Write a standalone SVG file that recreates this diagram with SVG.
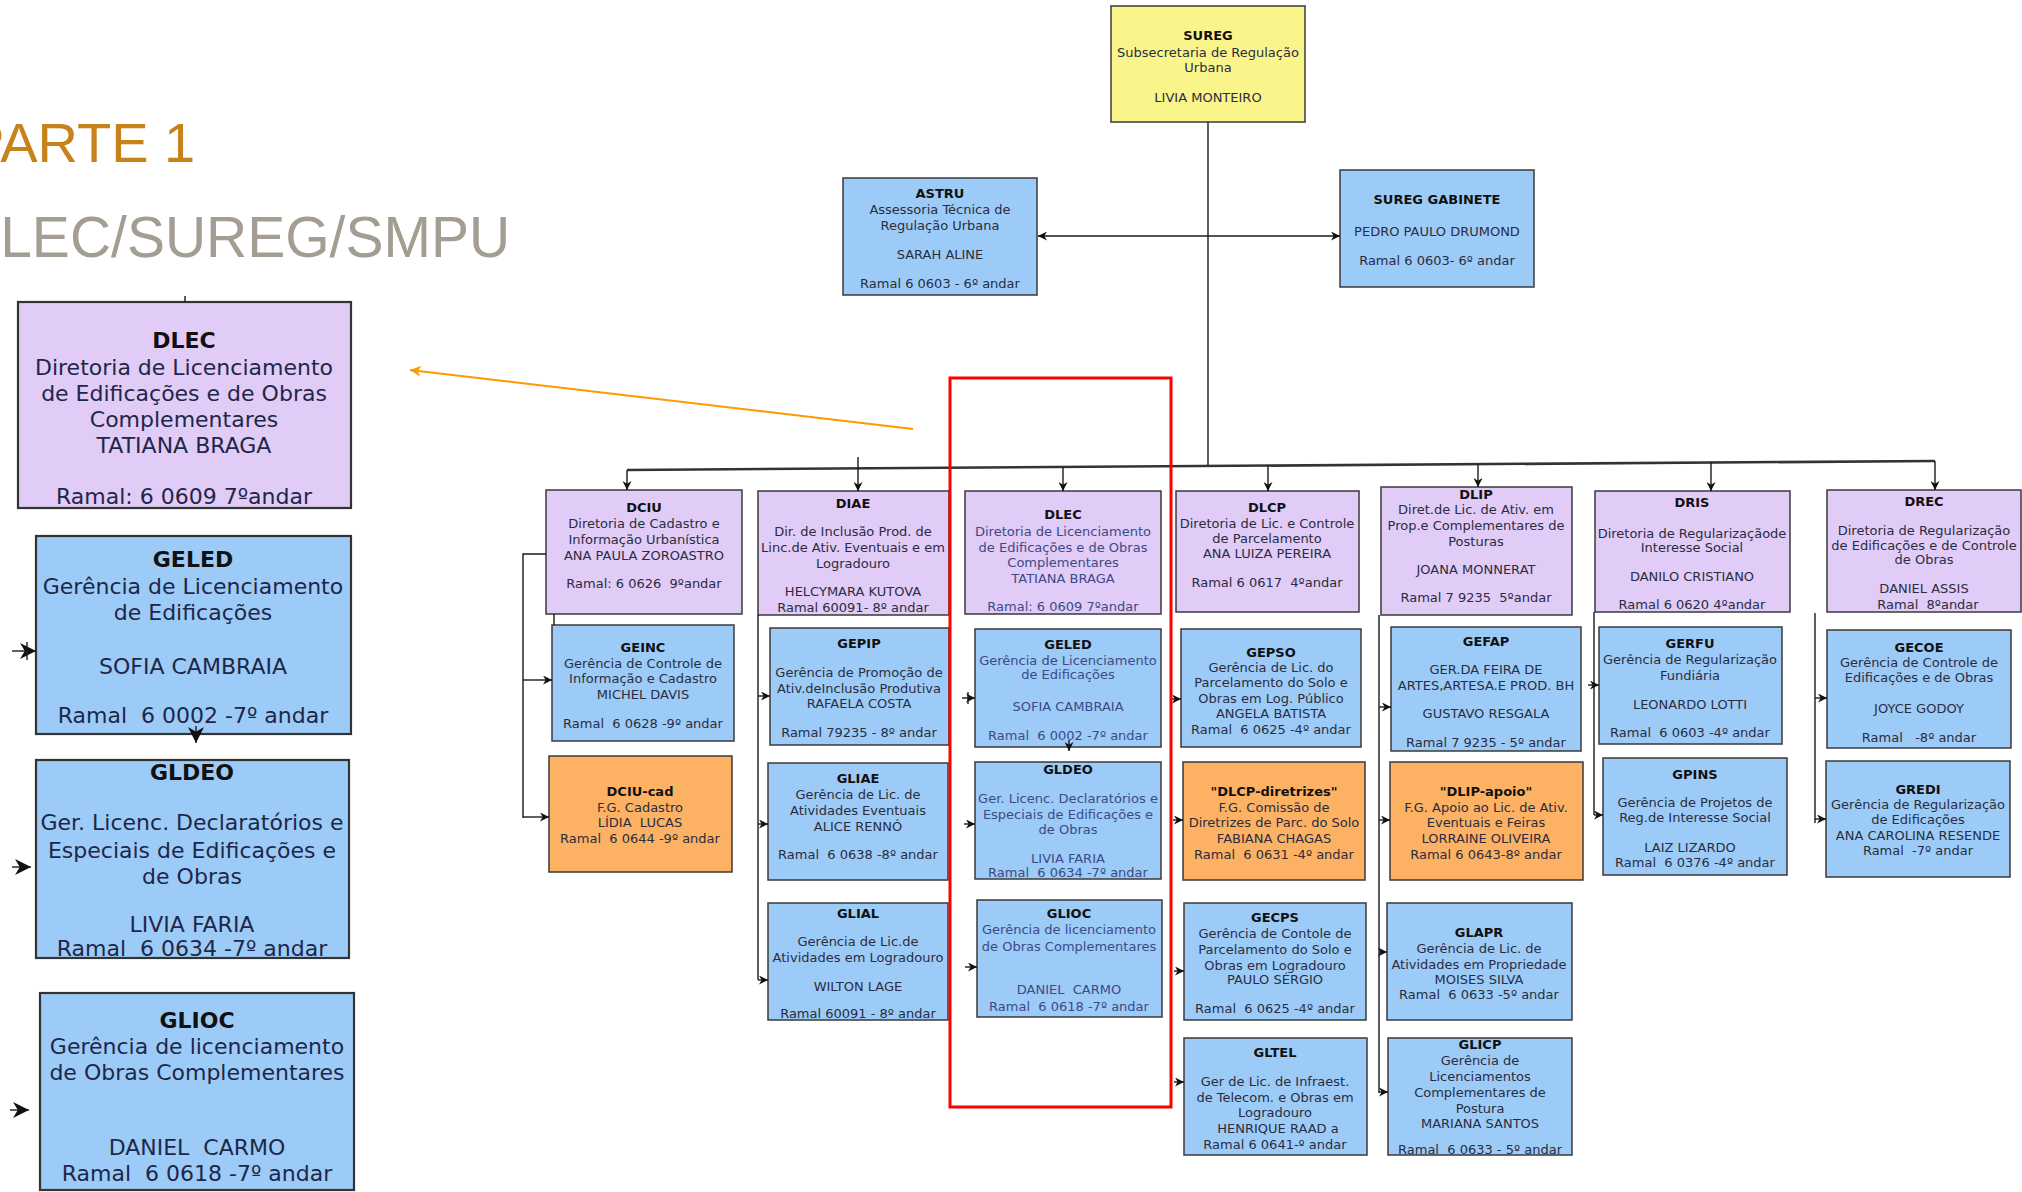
<svg xmlns="http://www.w3.org/2000/svg" width="2022" height="1192" viewBox="0 0 2022 1192" xml:space="preserve">
<style>
.bg{fill:#ffffff}
.box{stroke:#3a3a3a;stroke-width:1.5}
.boxL{stroke:#333333;stroke-width:2.2}
.pu{fill:#E1CBF7}
.bl{fill:#9DCBF7}
.or{fill:#FDB163}
.ye{fill:#F9F58B}
.t{font-family:'DejaVu Sans',Verdana,sans-serif;font-size:13px;fill:#2a2d40;text-anchor:middle;white-space:pre}
.L{font-size:22px;fill:#1e2748}
.b{font-weight:bold;fill:#111111}
.hl{fill:#3c4a86}
.conn{stroke:#1a1a1a;stroke-width:1.4;fill:none}
.bus{stroke:#333333;stroke-width:2.6;fill:none}
.ttl{font-family:'Liberation Sans',Arial,sans-serif;font-size:56px}
</style>
<defs>
<marker id="ah" viewBox="0 0 10 10" refX="10" refY="5" markerWidth="9" markerHeight="9" markerUnits="userSpaceOnUse" orient="auto-start-reverse"><path d="M0,0 L10,5 L0,10 L3,5 z" fill="#111111"/></marker>
<marker id="ahL" viewBox="0 0 10 10" refX="10" refY="5" markerWidth="18" markerHeight="16" markerUnits="userSpaceOnUse" orient="auto"><path d="M0,0 L10,5 L0,10 L3,5 z" fill="#111111"/></marker>
<marker id="aho" viewBox="0 0 10 10" refX="10" refY="5" markerWidth="13" markerHeight="11" markerUnits="userSpaceOnUse" orient="auto"><path d="M0,0 L10,5 L0,10 L3,5 z" fill="#FF9900"/></marker>
</defs>
<rect class="bg" x="0" y="0" width="2022" height="1192"/>

<g id="titles">
<text class="ttl" x="-33" y="162" fill="#C8821A">PARTE 1</text>
<text class="ttl" x="-41" y="257" fill="#A39D92" style="font-size:57px">DLEC/SUREG/SMPU</text>
</g>

<g id="big-dlec"><rect class="boxL pu" x="18" y="302" width="333" height="206"/>
<text class="t L b" x="184" y="348">DLEC</text>
<text class="t L" x="184" y="375">Diretoria de Licenciamento</text>
<text class="t L" x="184" y="401">de Edificações e de Obras</text>
<text class="t L" x="184" y="427">Complementares</text>
<text class="t L" x="184" y="453">TATIANA BRAGA</text>
<text class="t L" x="184" y="504">Ramal: 6 0609 7ºandar</text>
</g>
<g id="big-geled"><rect class="boxL bl" x="36" y="536" width="315" height="198"/>
<text class="t L b" x="193" y="567">GELED</text>
<text class="t L" x="193" y="594">Gerência de Licenciamento</text>
<text class="t L" x="193" y="620">de Edificações</text>
<text class="t L" x="193" y="674">SOFIA CAMBRAIA</text>
<text class="t L" x="193" y="723">Ramal  6 0002 -7º andar</text>
</g>
<g id="big-gldeo"><rect class="boxL bl" x="36" y="760" width="313" height="198"/>
<text class="t L b" x="192" y="780">GLDEO</text>
<text class="t L" x="192" y="830" textLength="303" lengthAdjust="spacingAndGlyphs">Ger. Licenc. Declaratórios e</text>
<text class="t L" x="192" y="858">Especiais de Edificações e</text>
<text class="t L" x="192" y="884">de Obras</text>
<text class="t L" x="192" y="932">LIVIA FARIA</text>
<text class="t L" x="192" y="956">Ramal  6 0634 -7º andar</text>
</g>
<g id="big-glioc"><rect class="boxL bl" x="40" y="993" width="314" height="197"/>
<text class="t L b" x="197" y="1028">GLIOC</text>
<text class="t L" x="197" y="1054">Gerência de licenciamento</text>
<text class="t L" x="197" y="1080">de Obras Complementares</text>
<text class="t L" x="197" y="1155">DANIEL  CARMO</text>
<text class="t L" x="197" y="1181">Ramal  6 0618 -7º andar</text>
</g>

<g id="sureg"><rect class="box ye" x="1111" y="6" width="194" height="116"/>
<text class="t b" x="1208" y="40">SUREG</text>
<text class="t" x="1208" y="57">Subsecretaria de Regulação</text>
<text class="t" x="1208" y="72">Urbana</text>
<text class="t" x="1208" y="102">LIVIA MONTEIRO</text>
</g>
<g id="astru"><rect class="box bl" x="843" y="178" width="194" height="117"/>
<text class="t b" x="940" y="198">ASTRU</text>
<text class="t" x="940" y="214">Assessoria Técnica de</text>
<text class="t" x="940" y="230">Regulação Urbana</text>
<text class="t" x="940" y="259">SARAH ALINE</text>
<text class="t" x="940" y="288">Ramal 6 0603 - 6º andar</text>
</g>
<g id="gabinete"><rect class="box bl" x="1340" y="170" width="194" height="117"/>
<text class="t b" x="1437" y="204">SUREG GABINETE</text>
<text class="t" x="1437" y="236">PEDRO PAULO DRUMOND</text>
<text class="t" x="1437" y="265">Ramal 6 0603- 6º andar</text>
</g>

<g id="dciu"><rect class="box pu" x="546" y="490" width="196" height="124"/>
<text class="t b" x="644" y="512">DCIU</text>
<text class="t" x="644" y="528">Diretoria de Cadastro e</text>
<text class="t" x="644" y="544">Informação Urbanística</text>
<text class="t" x="644" y="560">ANA PAULA ZOROASTRO</text>
<text class="t" x="644" y="588">Ramal: 6 0626  9ºandar</text>
</g>
<g id="diae"><rect class="box pu" x="758" y="491" width="191" height="124"/>
<text class="t b" x="853" y="508">DIAE</text>
<text class="t" x="853" y="536">Dir. de Inclusão Prod. de</text>
<text class="t" x="853" y="552">Linc.de Ativ. Eventuais e em</text>
<text class="t" x="853" y="568">Logradouro</text>
<text class="t" x="853" y="596">HELCYMARA KUTOVA</text>
<text class="t" x="853" y="612">Ramal 60091- 8º andar</text>
</g>
<g id="dlec"><rect class="box pu" x="965" y="491" width="196" height="123"/>
<text class="t b" x="1063" y="519">DLEC</text>
<text class="t hl" x="1063" y="536">Diretoria de Licenciamento</text>
<text class="t hl" x="1063" y="552">de Edificações e de Obras</text>
<text class="t hl" x="1063" y="567">Complementares</text>
<text class="t hl" x="1063" y="583">TATIANA BRAGA</text>
<text class="t hl" x="1063" y="611">Ramal: 6 0609 7ºandar</text>
</g>
<g id="dlcp"><rect class="box pu" x="1176" y="491" width="183" height="121"/>
<text class="t b" x="1267" y="512">DLCP</text>
<text class="t" x="1267" y="528">Diretoria de Lic. e Controle</text>
<text class="t" x="1267" y="543">de Parcelamento</text>
<text class="t" x="1267" y="558">ANA LUIZA PEREIRA</text>
<text class="t" x="1267" y="587">Ramal 6 0617  4ºandar</text>
</g>
<g id="dlip"><rect class="box pu" x="1381" y="487" width="191" height="128"/>
<text class="t b" x="1476" y="499">DLIP</text>
<text class="t" x="1476" y="514">Diret.de Lic. de Ativ. em</text>
<text class="t" x="1476" y="530">Prop.e Complementares de</text>
<text class="t" x="1476" y="546">Posturas</text>
<text class="t" x="1476" y="574">JOANA MONNERAT</text>
<text class="t" x="1476" y="602">Ramal 7 9235  5ºandar</text>
</g>
<g id="dris"><rect class="box pu" x="1595" y="491" width="195" height="121"/>
<text class="t b" x="1692" y="507">DRIS</text>
<text class="t" x="1692" y="538">Diretoria de Regularizaçãode</text>
<text class="t" x="1692" y="552">Interesse Social</text>
<text class="t" x="1692" y="581">DANILO CRISTIANO</text>
<text class="t" x="1692" y="609">Ramal 6 0620 4ºandar</text>
</g>
<g id="drec"><rect class="box pu" x="1827" y="490" width="194" height="122"/>
<text class="t b" x="1924" y="506">DREC</text>
<text class="t" x="1924" y="535">Diretoria de Regularização</text>
<text class="t" x="1924" y="550">de Edificações e de Controle</text>
<text class="t" x="1924" y="564">de Obras</text>
<text class="t" x="1924" y="593">DANIEL ASSIS</text>
<text class="t" x="1928" y="609">Ramal  8ºandar</text>
</g>

<g id="geinc"><rect class="box bl" x="552" y="625" width="182" height="116"/>
<text class="t b" x="643" y="652">GEINC</text>
<text class="t" x="643" y="668">Gerência de Controle de</text>
<text class="t" x="643" y="683">Informação e Cadastro</text>
<text class="t" x="643" y="699">MICHEL DAVIS</text>
<text class="t" x="643" y="728">Ramal  6 0628 -9º andar</text>
</g>
<g id="gepip"><rect class="box bl" x="770" y="628" width="179" height="117"/>
<text class="t b" x="859" y="648">GEPIP</text>
<text class="t" x="859" y="677">Gerência de Promoção de</text>
<text class="t" x="859" y="693">Ativ.deInclusão Produtiva</text>
<text class="t" x="859" y="708">RAFAELA COSTA</text>
<text class="t" x="859" y="737">Ramal 79235 - 8º andar</text>
</g>
<g id="geled"><rect class="box bl" x="975" y="629" width="186" height="118"/>
<text class="t b" x="1068" y="649">GELED</text>
<text class="t hl" x="1068" y="665">Gerência de Licenciamento</text>
<text class="t hl" x="1068" y="679">de Edificações</text>
<text class="t hl" x="1068" y="711">SOFIA CAMBRAIA</text>
<text class="t hl" x="1068" y="740">Ramal  6 0002 -7º andar</text>
</g>
<g id="gepso"><rect class="box bl" x="1181" y="629" width="180" height="118"/>
<text class="t b" x="1271" y="657">GEPSO</text>
<text class="t" x="1271" y="672">Gerência de Lic. do</text>
<text class="t" x="1271" y="687">Parcelamento do Solo e</text>
<text class="t" x="1271" y="703">Obras em Log. Público</text>
<text class="t" x="1271" y="718">ANGELA BATISTA</text>
<text class="t" x="1271" y="734">Ramal  6 0625 -4º andar</text>
</g>
<g id="gefap"><rect class="box bl" x="1391" y="627" width="190" height="124"/>
<text class="t b" x="1486" y="646">GEFAP</text>
<text class="t" x="1486" y="674">GER.DA FEIRA DE</text>
<text class="t" x="1486" y="690">ARTES,ARTESA.E PROD. BH</text>
<text class="t" x="1486" y="718">GUSTAVO RESGALA</text>
<text class="t" x="1486" y="747">Ramal 7 9235 - 5º andar</text>
</g>
<g id="gerfu"><rect class="box bl" x="1599" y="627" width="183" height="117"/>
<text class="t b" x="1690" y="648">GERFU</text>
<text class="t" x="1690" y="664">Gerência de Regularização</text>
<text class="t" x="1690" y="680">Fundiária</text>
<text class="t" x="1690" y="709">LEONARDO LOTTI</text>
<text class="t" x="1690" y="737">Ramal  6 0603 -4º andar</text>
</g>
<g id="gecoe"><rect class="box bl" x="1827" y="630" width="184" height="118"/>
<text class="t b" x="1919" y="652">GECOE</text>
<text class="t" x="1919" y="667">Gerência de Controle de</text>
<text class="t" x="1919" y="682">Edificações e de Obras</text>
<text class="t" x="1919" y="713">JOYCE GODOY</text>
<text class="t" x="1919" y="742">Ramal   -8º andar</text>
</g>

<g id="dciu-cad"><rect class="box or" x="549" y="756" width="183" height="116"/>
<text class="t b" x="640" y="796">DCIU-cad</text>
<text class="t" x="640" y="812">F.G. Cadastro</text>
<text class="t" x="640" y="827">LÍDIA  LUCAS</text>
<text class="t" x="640" y="843">Ramal  6 0644 -9º andar</text>
</g>
<g id="gliae"><rect class="box bl" x="768" y="763" width="180" height="117"/>
<text class="t b" x="858" y="783">GLIAE</text>
<text class="t" x="858" y="799">Gerência de Lic. de</text>
<text class="t" x="858" y="815">Atividades Eventuais</text>
<text class="t" x="858" y="831">ALICE RENNÓ</text>
<text class="t" x="858" y="859">Ramal  6 0638 -8º andar</text>
</g>
<g id="gldeo"><rect class="box bl" x="975" y="762" width="186" height="117"/>
<text class="t b" x="1068" y="774">GLDEO</text>
<text class="t hl" x="1068" y="803" textLength="180" lengthAdjust="spacingAndGlyphs">Ger. Licenc. Declaratórios e</text>
<text class="t hl" x="1068" y="819">Especiais de Edificações e</text>
<text class="t hl" x="1068" y="834">de Obras</text>
<text class="t hl" x="1068" y="863">LIVIA FARIA</text>
<text class="t hl" x="1068" y="877">Ramal  6 0634 -7º andar</text>
</g>
<g id="dlcp-diretrizes"><rect class="box or" x="1183" y="762" width="182" height="118"/>
<text class="t b" x="1274" y="796">"DLCP-diretrizes"</text>
<text class="t" x="1274" y="812">F.G. Comissão de</text>
<text class="t" x="1274" y="827">Diretrizes de Parc. do Solo</text>
<text class="t" x="1274" y="843">FABIANA CHAGAS</text>
<text class="t" x="1274" y="859">Ramal  6 0631 -4º andar</text>
</g>
<g id="dlip-apoio"><rect class="box or" x="1390" y="762" width="193" height="118"/>
<text class="t b" x="1486" y="796">"DLIP-apoio"</text>
<text class="t" x="1486" y="812">F.G. Apoio ao Lic. de Ativ.</text>
<text class="t" x="1486" y="827">Eventuais e Feiras</text>
<text class="t" x="1486" y="843">LORRAINE OLIVEIRA</text>
<text class="t" x="1486" y="859">Ramal 6 0643-8º andar</text>
</g>
<g id="gpins"><rect class="box bl" x="1603" y="758" width="184" height="117"/>
<text class="t b" x="1695" y="779">GPINS</text>
<text class="t" x="1695" y="807">Gerência de Projetos de</text>
<text class="t" x="1695" y="822">Reg.de Interesse Social</text>
<text class="t" x="1690" y="852">LAIZ LIZARDO</text>
<text class="t" x="1695" y="867">Ramal  6 0376 -4º andar</text>
</g>
<g id="gredi"><rect class="box bl" x="1826" y="761" width="184" height="116"/>
<text class="t b" x="1918" y="794">GREDI</text>
<text class="t" x="1918" y="809">Gerência de Regularização</text>
<text class="t" x="1918" y="824">de Edificações</text>
<text class="t" x="1918" y="840">ANA CAROLINA RESENDE</text>
<text class="t" x="1918" y="855">Ramal  -7º andar</text>
</g>

<g id="glial"><rect class="box bl" x="768" y="903" width="180" height="117"/>
<text class="t b" x="858" y="918">GLIAL</text>
<text class="t" x="858" y="946">Gerência de Lic.de</text>
<text class="t" x="858" y="962">Atividades em Logradouro</text>
<text class="t" x="858" y="991">WILTON LAGE</text>
<text class="t" x="858" y="1018">Ramal 60091 - 8º andar</text>
</g>
<g id="glioc"><rect class="box bl" x="977" y="900" width="185" height="117"/>
<text class="t b" x="1069" y="918">GLIOC</text>
<text class="t hl" x="1069" y="934">Gerência de licenciamento</text>
<text class="t hl" x="1069" y="951">de Obras Complementares</text>
<text class="t hl" x="1069" y="994">DANIEL  CARMO</text>
<text class="t hl" x="1069" y="1011">Ramal  6 0618 -7º andar</text>
</g>
<g id="gecps"><rect class="box bl" x="1184" y="903" width="182" height="117"/>
<text class="t b" x="1275" y="922">GECPS</text>
<text class="t" x="1275" y="938">Gerência de Contole de</text>
<text class="t" x="1275" y="954">Parcelamento do Solo e</text>
<text class="t" x="1275" y="970">Obras em Logradouro</text>
<text class="t" x="1275" y="984">PAULO SÉRGIO</text>
<text class="t" x="1275" y="1013">Ramal  6 0625 -4º andar</text>
</g>
<g id="glapr"><rect class="box bl" x="1387" y="903" width="185" height="117"/>
<text class="t b" x="1479" y="937">GLAPR</text>
<text class="t" x="1479" y="953">Gerência de Lic. de</text>
<text class="t" x="1479" y="969">Atividades em Propriedade</text>
<text class="t" x="1479" y="984">MOISES SILVA</text>
<text class="t" x="1479" y="999">Ramal  6 0633 -5º andar</text>
</g>
<g id="gltel"><rect class="box bl" x="1184" y="1038" width="183" height="117"/>
<text class="t b" x="1275" y="1057">GLTEL</text>
<text class="t" x="1275" y="1086">Ger de Lic. de Infraest.</text>
<text class="t" x="1275" y="1102">de Telecom. e Obras em</text>
<text class="t" x="1275" y="1117">Logradouro</text>
<text class="t" x="1278" y="1133">HENRIQUE RAAD a</text>
<text class="t" x="1275" y="1149">Ramal 6 0641-º andar</text>
</g>
<g id="glicp"><rect class="box bl" x="1388" y="1038" width="184" height="117"/>
<text class="t b" x="1480" y="1049">GLICP</text>
<text class="t" x="1480" y="1065">Gerência de</text>
<text class="t" x="1480" y="1081">Licenciamentos</text>
<text class="t" x="1480" y="1097">Complementares de</text>
<text class="t" x="1480" y="1113">Postura</text>
<text class="t" x="1480" y="1128">MARIANA SANTOS</text>
<text class="t" x="1480" y="1154">Ramal  6 0633 - 5º andar</text>
</g>

<g id="connectors">
<path class="conn" d="M1208,122 V465"/>
<path class="conn" d="M1038,236 H1340" marker-start="url(#ah)" marker-end="url(#ah)"/>
<path class="bus" d="M627,470 L1935,461"/>
<path class="conn" d="M627,470 V490" marker-end="url(#ah)"/>
<path class="conn" d="M858,457 V491" marker-end="url(#ah)"/>
<path class="conn" d="M1063,467 V491" marker-end="url(#ah)"/>
<path class="conn" d="M1268,465 V491" marker-end="url(#ah)"/>
<path class="conn" d="M1478,464 V487" marker-end="url(#ah)"/>
<path class="conn" d="M1711,462 V491" marker-end="url(#ah)"/>
<path class="conn" d="M1935,461 V490" marker-end="url(#ah)"/>

<path class="conn" d="M546,554 H523 V818"/>
<path class="conn" d="M523,680 H552" marker-end="url(#ah)"/>
<path class="conn" d="M523,817 H549" marker-end="url(#ah)"/>
<path class="conn" d="M554,614 V625"/>

<path class="conn" d="M758,615 V980"/>
<path class="conn" d="M758,696 H770" marker-end="url(#ah)"/>
<path class="conn" d="M758,824 H768" marker-end="url(#ah)"/>
<path class="conn" d="M758,980 H768" marker-end="url(#ah)"/>

<path class="conn" d="M962,698 H975" marker-end="url(#ah)"/>
<path class="conn" d="M968,692 V704"/>
<path class="conn" d="M964,824 H975" marker-end="url(#ah)"/>
<path class="conn" d="M965,967 H977" marker-end="url(#ah)"/>
<path class="conn" d="M1069,740 V751" marker-end="url(#ah)"/>

<path class="conn" d="M1172,699 H1181" marker-end="url(#ah)"/>
<path class="conn" d="M1173,820 H1183" marker-end="url(#ah)"/>
<path class="conn" d="M1174,971 H1184" marker-end="url(#ah)"/>
<path class="conn" d="M1174,1082 H1184" marker-end="url(#ah)"/>

<path class="conn" d="M1379,615 V1093"/>
<path class="conn" d="M1379,707 H1391" marker-end="url(#ah)"/>
<path class="conn" d="M1379,820 H1390" marker-end="url(#ah)"/>
<path class="conn" d="M1379,952 H1387" marker-end="url(#ah)"/>
<path class="conn" d="M1379,1092 H1388" marker-end="url(#ah)"/>

<path class="conn" d="M1594,612 V815"/>
<path class="conn" d="M1588,685 H1599" marker-end="url(#ah)"/>
<path class="conn" d="M1594,815 H1603" marker-end="url(#ah)"/>

<path class="conn" d="M1815,613 V823"/>
<path class="conn" d="M1815,698 H1827" marker-end="url(#ah)"/>
<path class="conn" d="M1815,819 H1826" marker-end="url(#ah)"/>

<path class="conn" d="M12,651 H36" stroke-width="2" marker-end="url(#ahL)"/>
<path class="conn" d="M27,642 V660" stroke-width="2"/>
<path class="conn" d="M12,867 H31" stroke-width="2" marker-end="url(#ahL)"/>
<path class="conn" d="M10,1110 H29" stroke-width="2" marker-end="url(#ahL)"/>
<path class="conn" d="M196,726 V743" stroke-width="2" marker-end="url(#ahL)"/>
<path class="conn" d="M185,296 V302" stroke-width="2"/>

<path d="M913,429 L410,370" stroke="#FF9900" stroke-width="2" fill="none" marker-end="url(#aho)"/>
</g>

<g id="highlight">
<rect x="950" y="378" width="221" height="729" fill="none" stroke="#FF0000" stroke-width="3"/>
</g>
</svg>
